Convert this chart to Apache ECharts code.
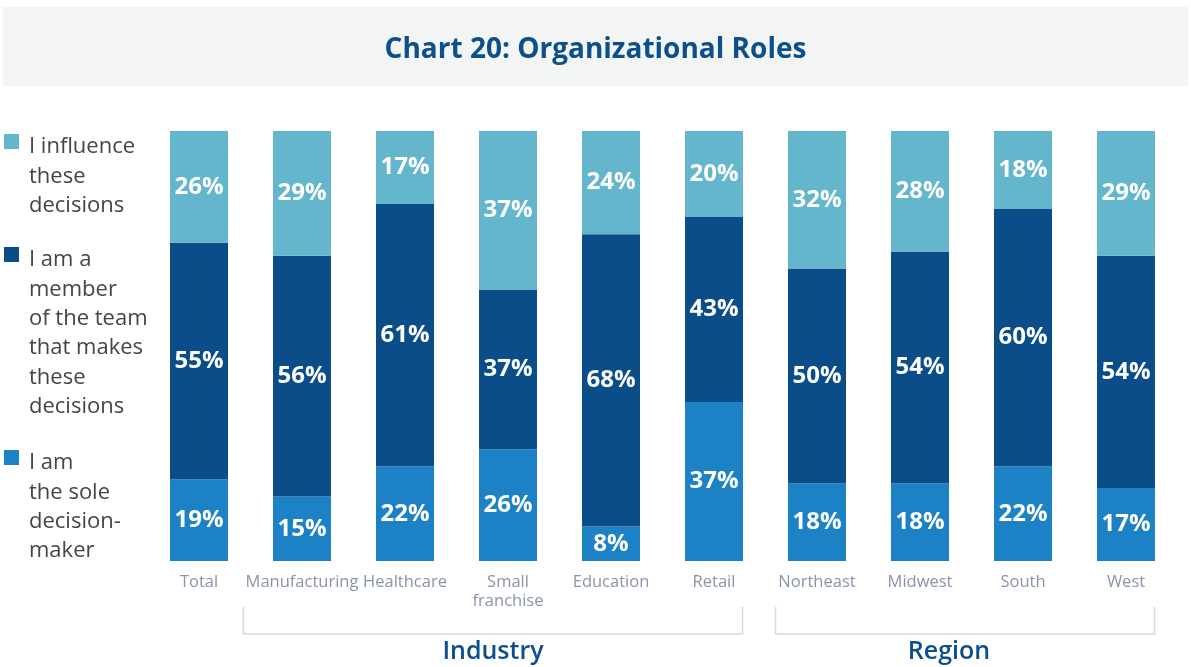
<!DOCTYPE html>
<html>
<head>
<meta charset="utf-8">
<script src="https://cdn.jsdelivr.net/npm/echarts@6/dist/echarts.min.js"></script>
<style>
  html, body { margin: 0; padding: 0; background: #fff; }
  #chart { width: 1191px; height: 667px; }
</style>
</head>
<body>
<div id="chart"></div>
<script>
const categories = ['Total', 'Manufacturing', 'Healthcare', 'Small\nfranchise', 'Education', 'Retail', 'Northeast', 'Midwest', 'South', 'West']
const soleValues = [19, 15, 22, 26, 8, 37, 18, 18, 22, 17]
const memberValues = [55, 56, 61, 37, 68, 43, 50, 54, 60, 54]
const influenceValues = [26, 29, 17, 37, 24, 20, 32, 28, 18, 29]
const seriesNames = ['I am the sole decision-maker', 'I am a member of the team that makes these decisions', 'I influence these decisions']
const legendLines = [
  ['I am', 'the sole', 'decision-', 'maker'],
  ['I am a', 'member', 'of the team', 'that makes', 'these', 'decisions'],
  ['I influence', 'these', 'decisions']
]
const groups = [
  { name: 'Industry', from: 'Manufacturing', to: 'Retail' },
  { name: 'Region', from: 'Northeast', to: 'West' }
]

const colors = ['#1d82c5', '#0b4d89', '#63b6cc']
const fontFamily = 'Open Sans'
const barWidth = 58
const axisFontSize = 16.5
const groupLabelShift = [0, -16]
const chart = echarts.init(document.getElementById('chart'))

function barSeries(name, data, color) {
  return {
    name,
    type: 'bar',
    stack: 'roles',
    data,
    barWidth,
    itemStyle: { color },
    label: {
      show: true,
      position: 'inside',
      formatter: '{c}%',
      color: '#ffffff',
      fontFamily,
      fontWeight: 'bold',
      fontSize: 24
    }
  }
}

// legend drawn by hand: items are multi-line and top-aligned with the swatch
const legendTops = [450, 247, 134]
const legendGraphic = []
legendLines.forEach((lines, i) => {
  legendGraphic.push({
    type: 'rect',
    shape: { x: 4, y: legendTops[i], width: 15, height: 15 },
    style: { fill: colors[i] }
  })
  legendGraphic.push({
    type: 'text',
    x: 29,
    y: legendTops[i] - 1.5,
    style: {
      text: lines.join('\n'),
      fill: '#454545',
      font: '22px ' + fontFamily,
      lineHeight: 29.3,
      verticalAlign: 'top'
    }
  })
})

chart.setOption({
  animation: false,
  title: {
    text: 'Chart 20: Organizational Roles',
    left: 'center',
    top: 30,
    textStyle: {
      color: '#0d4f8b',
      fontFamily,
      fontWeight: 'bold',
      fontSize: 28,
      lineHeight: 30
    }
  },
  grid: { left: 147.5, right: 13.5, top: 131, bottom: 106 },
  xAxis: {
    type: 'category',
    data: categories,
    axisLine: { show: false },
    axisTick: { show: false },
    axisLabel: {
      interval: 0,
      hideOverlap: false,
      margin: 12,
      color: '#8a93ab',
      fontFamily,
      fontSize: axisFontSize,
      lineHeight: 19
    }
  },
  yAxis: { type: 'value', min: 0, max: 100, show: false },
  series: [
    barSeries(seriesNames[0], soleValues, colors[0]),
    barSeries(seriesNames[1], memberValues, colors[1]),
    barSeries(seriesNames[2], influenceValues, colors[2])
  ]
})

// brackets and group names under the axis, placed from the category scale
const ctx = document.createElement('canvas').getContext('2d')
ctx.font = axisFontSize + 'px ' + fontFamily
function spanOf(cat) {
  const c = chart.convertToPixel({ xAxisIndex: 0 }, cat)
  const w = Math.max(...cat.split('\n').map(s => ctx.measureText(s).width)) + 6
  return [Math.min(c - w / 2, c - barWidth / 2), Math.max(c + w / 2, c + barWidth / 2)]
}

const groupGraphic = []
groups.forEach((g, i) => {
  const x0 = Math.round(spanOf(g.from)[0]) + 0.5
  const x1 = Math.round(spanOf(g.to)[1]) - 0.5
  groupGraphic.push({
    type: 'polyline',
    shape: { points: [[x0, 607], [x0, 634], [x1, 634], [x1, 607]] },
    style: { stroke: '#d9d9d9', lineWidth: 1.5, fill: null }
  })
  groupGraphic.push({
    type: 'text',
    x: (x0 + x1) / 2 + groupLabelShift[i],
    y: 652,
    style: {
      text: g.name,
      fill: '#0d4f8b',
      font: '600 25px ' + fontFamily,
      align: 'center',
      verticalAlign: 'middle'
    }
  })
})

chart.setOption({
  graphic: [
    {
      type: 'rect',
      z: -10,
      shape: { x: 3, y: 7, width: 1185, height: 79 },
      style: { fill: '#f3f5f5' }
    },
    ...legendGraphic,
    ...groupGraphic
  ]
})
</script>
</body>
</html>
